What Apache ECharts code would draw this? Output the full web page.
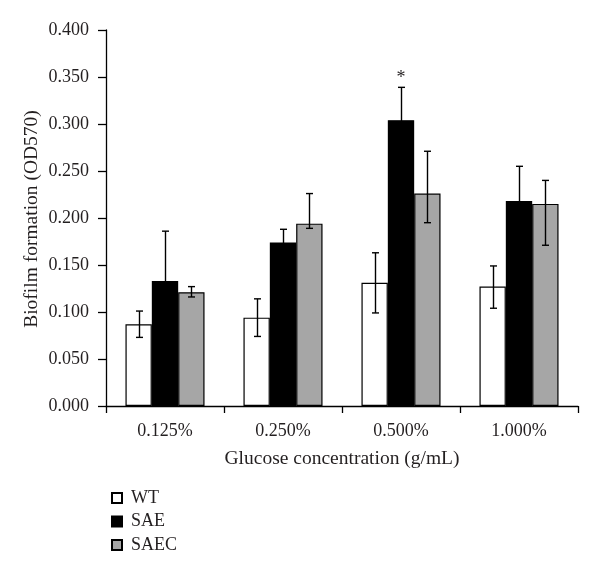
<!DOCTYPE html>
<html><head><meta charset="utf-8">
<script src="https://cdn.jsdelivr.net/npm/echarts@6/dist/echarts.min.js"></script>
<style>html,body{margin:0;padding:0;background:#fff}#c{width:600px;height:576px}</style>
</head><body><div id="c"></div>
<script>
const categories = ['0.125%', '0.250%', '0.500%', '1.000%'];
const seriesNames = ['WT', 'SAE', 'SAEC'];
const wtMean = [0.087, 0.094, 0.131, 0.127];
const wtLow = [0.073, 0.074, 0.099, 0.104];
const wtHigh = [0.101, 0.114, 0.163, 0.149];
const saeMean = [0.133, 0.174, 0.304, 0.218];
const saeLow = [0.080, 0.160, 0.270, 0.182];
const saeHigh = [0.186, 0.188, 0.339, 0.255];
const saecMean = [0.121, 0.194, 0.226, 0.215];
const saecLow = [0.116, 0.189, 0.195, 0.171];
const saecHigh = [0.127, 0.226, 0.271, 0.240];
const starCategory = 2;

const FONT = 'Liberation Serif';
const TXT = '#231f20';
const colors = ['#ffffff', '#000000', '#a6a6a6'];
const CAT_GAP = 0.33;

function errSeries(idx, low, high) {
  return {
    type: 'custom',
    name: seriesNames[idx] + ' error',
    z: 10,
    renderItem: function (params, api) {
      const x = api.value(0), lo = api.value(1), hi = api.value(2);
      const band = api.size([1, 0])[0];
      const barW = band * (1 - CAT_GAP) / 3;
      const off = (idx - 1) * barW;
      const pLo = api.coord([x, lo]);
      const pHi = api.coord([x, hi]);
      const cx = Math.round(pLo[0] + off) + 0.5;
      const cap = 3.5;
      const st = { stroke: '#000', lineWidth: 1.4 };
      return {
        type: 'group',
        children: [
          { type: 'line', shape: { x1: cx, y1: pLo[1], x2: cx, y2: pHi[1] }, style: st },
          { type: 'line', shape: { x1: cx - cap, y1: pHi[1], x2: cx + cap, y2: pHi[1] }, style: st },
          { type: 'line', shape: { x1: cx - cap, y1: pLo[1], x2: cx + cap, y2: pLo[1] }, style: st }
        ]
      };
    },
    data: categories.map((c, i) => [i, low[i], high[i]])
  };
}

function barSeries(idx, vals) {
  return {
    type: 'bar',
    name: seriesNames[idx],
    data: vals,
    barGap: '0%',
    barCategoryGap: (CAT_GAP * 100) + '%',
    itemStyle: { color: colors[idx], borderColor: '#000', borderWidth: 1.2 },
    emphasis: { disabled: true }
  };
}

const chart = echarts.init(document.getElementById('c'), null, { renderer: 'canvas' });
const sae = barSeries(1, saeMean);
sae.markPoint = {
  symbol: 'circle', symbolSize: 0,
  label: { show: true, formatter: '*', position: 'top', distance: 0, fontFamily: FONT, fontSize: 18, color: TXT },
  data: [{ coord: [starCategory, saeHigh[starCategory]] }]
};

chart.setOption({
  animation: false,
  backgroundColor: '#fff',
  textStyle: { fontFamily: FONT, color: TXT },
  grid: { left: 106, right: 22, top: 30, bottom: 170 },
  legend: {
    data: seriesNames,
    orient: 'vertical',
    left: 106, top: 484,
    itemWidth: 10, itemHeight: 10, itemGap: 5.5,
    icon: 'rect',
    formatter: n => '{t|' + n + '}',
    textStyle: {
      fontFamily: FONT, fontSize: 18, color: TXT,
      rich: { t: { fontFamily: FONT, fontSize: 18, color: TXT, padding: [0, 0, 0, 4] } }
    }
  },
  xAxis: {
    type: 'category',
    data: categories,
    name: 'Glucose concentration (g/mL)',
    nameLocation: 'middle',
    nameGap: 43,
    nameTextStyle: { fontFamily: FONT, fontSize: 19.5, color: TXT },
    axisLine: { lineStyle: { color: '#000', width: 1.3 } },
    axisTick: { show: true, length: 7, lineStyle: { color: '#000', width: 1.3 } },
    axisLabel: { fontFamily: FONT, fontSize: 18, color: TXT, margin: 16 }
  },
  yAxis: {
    type: 'value',
    min: 0, max: 0.4, interval: 0.05,
    axisLine: { show: true, lineStyle: { color: '#000', width: 1.3 } },
    axisTick: { show: true, length: 8, lineStyle: { color: '#000', width: 1.3 } },
    splitLine: { show: false },
    axisLabel: { fontFamily: FONT, fontSize: 18, color: TXT, margin: 17, formatter: v => v.toFixed(3) }
  },
  graphic: [{
    type: 'text',
    x: 31.5, y: 219,
    rotation: Math.PI / 2,
    style: { text: 'Biofilm formation (OD570)', fontFamily: FONT, fontSize: 19.5, fill: TXT, align: 'center', verticalAlign: 'middle' }
  }],
  series: [
    barSeries(0, wtMean), sae, barSeries(2, saecMean),
    errSeries(0, wtLow, wtHigh), errSeries(1, saeLow, saeHigh), errSeries(2, saecLow, saecHigh)
  ]
});
</script></body></html>
